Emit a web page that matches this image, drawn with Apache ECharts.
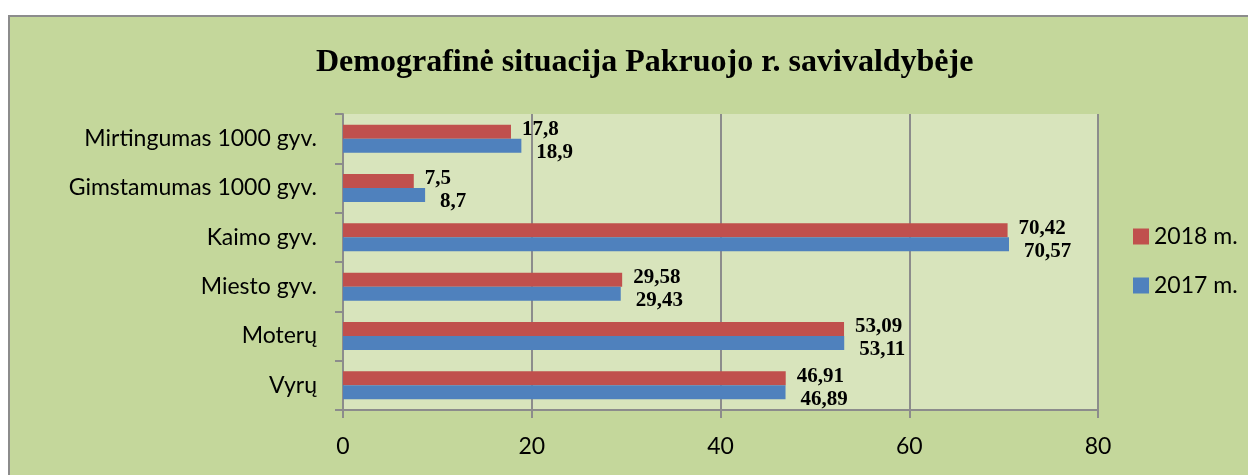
<!DOCTYPE html>
<html>
<head>
<meta charset="utf-8">
<script src="https://cdn.jsdelivr.net/npm/echarts@6/dist/echarts.min.js"></script>
<style>
  html, body { margin: 0; padding: 0; background: #ffffff; overflow: hidden; }
  .frame {
    position: absolute; left: 8px; top: 15px; width: 1260px; height: 480px;
    background: #c4d79b; border: 2px solid #8c8c8c;
  }
  #chart { position: absolute; left: 0; top: 0; width: 1248px; height: 475px; }
</style>
</head>
<body>
<div class="frame"></div>
<div id="chart"></div>
<script>
  const categories = ['Mirtingumas 1000 gyv.', 'Gimstamumas 1000 gyv.', 'Kaimo gyv.', 'Miesto gyv.', 'Moterų', 'Vyrų'];
  const values2018 = [17.8, 7.5, 70.42, 29.58, 53.09, 46.91];
  const values2017 = [18.9, 8.7, 70.57, 29.43, 53.11, 46.89];
  const xTicks = [0, 20, 40, 60, 80];

  const chart = echarts.init(document.getElementById('chart'));

  const valueLabel = (offsetY, offsetX) => ({
    show: true,
    position: 'right',
    distance: 5,
    offset: [offsetX, offsetY],
    fontFamily: 'Liberation Serif',
    fontWeight: 'bold',
    fontSize: 21,
    color: '#000',
    formatter: (p) => String(p.value).replace('.', ','),
  });

  chart.setOption({
    animation: false,
    title: {
      text: 'Demografinė situacija Pakruojo r. savivaldybėje',
      left: 311,
      top: 42,
      textStyle: {
        fontFamily: 'Liberation Serif',
        fontWeight: 'bold',
        fontSize: 32,
        color: '#000',
      },
    },
    legend: {
      orient: 'vertical',
      left: 1128,
      top: 220,
      itemGap: 26,
      itemWidth: 16,
      itemHeight: 16,
      icon: 'rect',
      data: ['2018 m.', '2017 m.'],
      textStyle: { fontFamily: 'Lato', fontSize: 23, color: '#000' },
    },
    grid: {
      left: 343,
      right: 150,
      top: 114,
      bottom: 65,
      show: true,
      backgroundColor: '#d8e4bc',
      borderWidth: 0,
    },
    xAxis: {
      type: 'value',
      min: xTicks[0],
      max: xTicks[xTicks.length - 1],
      interval: 20,
      axisLine: { show: true, lineStyle: { color: '#8c8c8c', width: 2 } },
      axisTick: { show: true, length: 8, lineStyle: { color: '#8c8c8c', width: 2 } },
      splitLine: { show: true, lineStyle: { color: '#8c8c8c', width: 2 } },
      axisLabel: { fontFamily: 'Lato', fontSize: 23, color: '#000', margin: 25 },
    },
    yAxis: {
      type: 'category',
      inverse: true,
      data: categories,
      axisLine: { show: true, lineStyle: { color: '#8c8c8c', width: 2 } },
      axisTick: { show: true, length: 8, lineStyle: { color: '#8c8c8c', width: 2 } },
      axisLabel: { fontFamily: 'Lato', fontSize: 23, color: '#000', margin: 26 },
    },
    series: [
      {
        name: '2018 m.',
        type: 'bar',
        data: values2018,
        barWidth: 14,
        barGap: '0%',
        itemStyle: { color: '#c0504d' },
        label: valueLabel(-2, 6),
      },
      {
        name: '2017 m.',
        type: 'bar',
        data: values2017,
        barWidth: 14,
        itemStyle: { color: '#4f81bd' },
        label: valueLabel(7, 10),
      },
    ],
  });
</script>
</body>
</html>
